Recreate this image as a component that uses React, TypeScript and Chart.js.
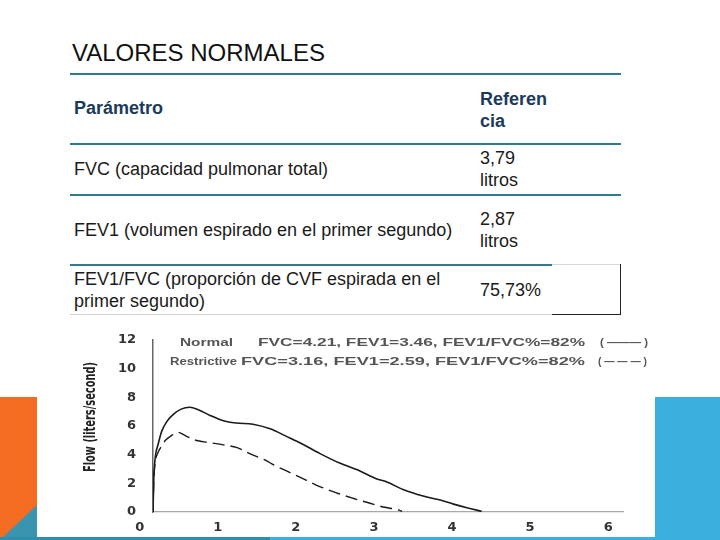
import React, { useEffect, useRef } from "react";
import { Chart, registerables } from "chart.js";

Chart.register(...registerables);

// ---- table content ----
const tableTitle = "VALORES NORMALES";
const headerParam = "Parámetro";
const headerRefLines = ["Referen", "cia"];
const paramLabels = [
  ["FVC (capacidad pulmonar total)"],
  ["FEV1 (volumen espirado en el primer segundo)"],
  ["FEV1/FVC (proporción de CVF espirada en el", "primer segundo)"],
];
const refValues = [["3,79", "litros"], ["2,87", "litros"], ["75,73%"]];

// ---- chart data ----
const timeNormal = [0.17, 0.18, 0.2, 0.235, 0.28, 0.34, 0.43, 0.53, 0.64, 0.75, 0.9, 1.07, 1.24, 1.45, 1.67, 1.88, 2.05, 2.31, 2.56, 2.82, 3.03, 3.16, 3.38, 3.63, 3.85, 4.02, 4.19, 4.38];
const flowNormal = [0, 2.3, 3.85, 4.7, 5.6, 6.25, 6.8, 7.17, 7.3, 7.13, 6.73, 6.36, 6.2, 6.12, 5.8, 5.27, 4.83, 4.07, 3.41, 2.86, 2.32, 2.1, 1.55, 1.11, 0.83, 0.55, 0.3, 0.05];
const timeRestrictive = [0.17, 0.18, 0.2, 0.23, 0.28, 0.33, 0.4, 0.49, 0.6, 0.73, 0.9, 1.07, 1.24, 1.41, 1.62, 1.71, 1.88, 2.05, 2.26, 2.52, 2.73, 2.95, 3.12, 3.31, 3.36];
const flowRestrictive = [0, 2.2, 3.5, 4.1, 4.6, 5.0, 5.3, 5.55, 5.27, 4.98, 4.83, 4.68, 4.5, 4.07, 3.58, 3.3, 2.86, 2.43, 1.88, 1.33, 0.96, 0.61, 0.35, 0.15, 0.05];
const xTickValues = [0, 1, 2, 3, 4, 5, 6];
const yTickValues = [0, 2, 4, 6, 8, 10, 12];
const yAxisTitle = "Flow (liters/second)";
const legendNames = ["Normal", "Restrictive"];
const legendStats = ["FVC=4.21, FEV1=3.46, FEV1/FVC%=82%", "FVC=3.16, FEV1=2.59, FEV1/FVC%=82%"];
const legendSamples = ["( ——— )", "( — — — )"];

const FONT = "'Liberation Sans', Arial, sans-serif";

function fitText(ctx: CanvasRenderingContext2D, text: string, x0: number, x1: number, y: number) {
  const w = ctx.measureText(text).width;
  ctx.save();
  ctx.translate(x0, y);
  ctx.scale((x1 - x0) / w, 1);
  ctx.fillText(text, 0, 0);
  ctx.restore();
}

const textPlugin = {
  id: "spiroText",
  afterDraw(chart: any) {
    const ctx: CanvasRenderingContext2D = chart.ctx;
    ctx.save();
    ctx.font = "bold 10px " + FONT;
    ctx.fillStyle = "#555";
    ctx.textBaseline = "middle";
    ctx.textAlign = "left";
    // legend line 1
    fitText(ctx, legendNames[0], 100, 153, 28);
    fitText(ctx, legendStats[0], 178, 505, 28);
    fitText(ctx, legendSamples[0], 520, 568, 28);
    // legend line 2
    fitText(ctx, legendNames[1], 90, 157, 47);
    fitText(ctx, legendStats[1], 161, 505, 47);
    fitText(ctx, legendSamples[1], 518, 567, 47);
    ctx.restore();

    // rotated y-axis title
    ctx.save();
    ctx.font = "bold 16px 'Liberation Sans Narrow', 'DejaVu Sans Condensed', sans-serif";
    ctx.fillStyle = "#222";
    ctx.textBaseline = "middle";
    ctx.translate(11, 157);
    ctx.rotate(-Math.PI / 2);
    fitText(ctx, yAxisTitle, 0, 110, 0);
    ctx.restore();
  },
};

function SpiroChart() {
  const ref = useRef<HTMLCanvasElement | null>(null);
  useEffect(() => {
    if (!ref.current) return;
    const tickFont = { family: "'DejaVu Sans', sans-serif", size: 13, weight: "bold" as const };
    const chart = new Chart(ref.current, {
      type: "scatter",
      data: {
        datasets: [
          {
            label: legendNames[0],
            data: timeNormal.map((x, i) => ({ x, y: flowNormal[i] })),
            showLine: true,
            borderColor: "#1a1a1a",
            borderWidth: 1.6,
            pointRadius: 0,
            cubicInterpolationMode: "monotone",
          },
          {
            label: legendNames[1],
            data: timeRestrictive.map((x, i) => ({ x, y: flowRestrictive[i] })),
            showLine: true,
            borderColor: "#1a1a1a",
            borderWidth: 1.4,
            borderDash: [12, 6],
            pointRadius: 0,
            cubicInterpolationMode: "monotone",
          },
        ],
      },
      options: {
        animation: false,
        responsive: true,
        maintainAspectRatio: false,
        layout: { padding: { top: 14, right: 32, left: 0, bottom: 0 } },
        plugins: { legend: { display: false }, tooltip: { enabled: false } },
        scales: {
          x: {
            type: "linear",
            min: 0.17,
            max: 6.19,
            afterBuildTicks: (s: any) => {
              s.ticks = xTickValues.map((v) => ({ value: v }));
            },
            afterFit: (s: any) => {
              s.height = 25;
            },
            ticks: { autoSkip: false, padding: 8, font: tickFont, color: "#333", maxRotation: 0 },
            grid: { display: false, drawTicks: false },
            border: { display: true, color: "#a8a8a8", width: 1.2 },
          },
          y: {
            min: 0,
            max: 12,
            afterBuildTicks: (s: any) => {
              s.ticks = yTickValues.map((v) => ({ value: v }));
            },
            afterFit: (s: any) => {
              s.width = 73;
            },
            ticks: { padding: 17, font: tickFont, color: "#333" },
            grid: { display: false, drawTicks: false },
            border: { display: true, color: "#666", width: 1.5 },
            title: { display: false },
          },
        },
      },
      plugins: [textPlugin],
    });
    return () => chart.destroy();
  }, []);
  return <canvas ref={ref} />;
}

const abs = (left: number, top: number, extra: React.CSSProperties = {}): React.CSSProperties => ({
  position: "absolute",
  left,
  top,
  ...extra,
});

export default function App() {
  const lineColor = "#2e7d8f";
  const headColor = "#1b3a5c";
  const txt: React.CSSProperties = { fontSize: 18, lineHeight: "22px", color: "#1a1a1a", whiteSpace: "nowrap" };
  const rowTops = [158, 219, 268];
  const refTops = [147, 208, 279];
  const hLines = [73, 143, 194];
  return (
    <div style={{ position: "fixed", left: 0, top: 0, width: 720, height: 540, background: "#fff", fontFamily: FONT, overflow: "hidden" }}>
      {/* decorative blocks */}
      <div style={abs(0, 397, { width: 37, height: 143, background: "#f36c21" })} />
      <div style={abs(0, 505, { width: 37, height: 35, background: "#3994b0", clipPath: "polygon(100% 0, 100% 100%, 0 100%)" })} />
      <div style={abs(655, 397, { width: 65, height: 143, background: "#3bb0df" })} />
      <div style={abs(0, 537, { width: 270, height: 3, background: "#2f8eaa" })} />
      <div style={abs(270, 537, { width: 450, height: 3, background: "#3bb0de" })} />

      {/* title */}
      <div style={abs(72, 38, { fontSize: 24, lineHeight: "30px", color: "#111", whiteSpace: "nowrap" })}>{tableTitle}</div>

      {/* table lines */}
      {hLines.map((y) => (
        <div key={y} style={abs(70, y, { width: 551, height: 1.5, background: lineColor })} />
      ))}
      <div style={abs(70, 264, { width: 482, height: 1.5, background: lineColor })} />
      <div style={abs(552, 264, { width: 69, height: 1, background: "#d8d8d8" })} />
      <div style={abs(620, 264, { width: 1, height: 51, background: "#222" })} />
      <div style={abs(552, 314, { width: 69, height: 1.2, background: "#222" })} />
      <div style={abs(70, 314, { width: 482, height: 1, background: "#cfcfcf" })} />

      {/* header */}
      <div style={abs(74, 97, { ...txt, fontWeight: "bold", color: headColor })}>{headerParam}</div>
      <div style={abs(480, 88, { ...txt, fontWeight: "bold", color: headColor })}>
        {headerRefLines.map((l, i) => (
          <div key={i}>{l}</div>
        ))}
      </div>

      {/* rows */}
      {paramLabels.map((lines, r) => (
        <div key={"p" + r} style={abs(74, rowTops[r], txt)}>
          {lines.map((l, i) => (
            <div key={i}>{l}</div>
          ))}
        </div>
      ))}
      {refValues.map((lines, r) => (
        <div key={"v" + r} style={abs(480, refTops[r], txt)}>
          {lines.map((l, i) => (
            <div key={i}>{l}</div>
          ))}
        </div>
      ))}

      {/* chart image */}
      <div style={abs(80, 315, { width: 575, height: 222, background: "#fff" })}>
        <SpiroChart />
      </div>
    </div>
  );
}
